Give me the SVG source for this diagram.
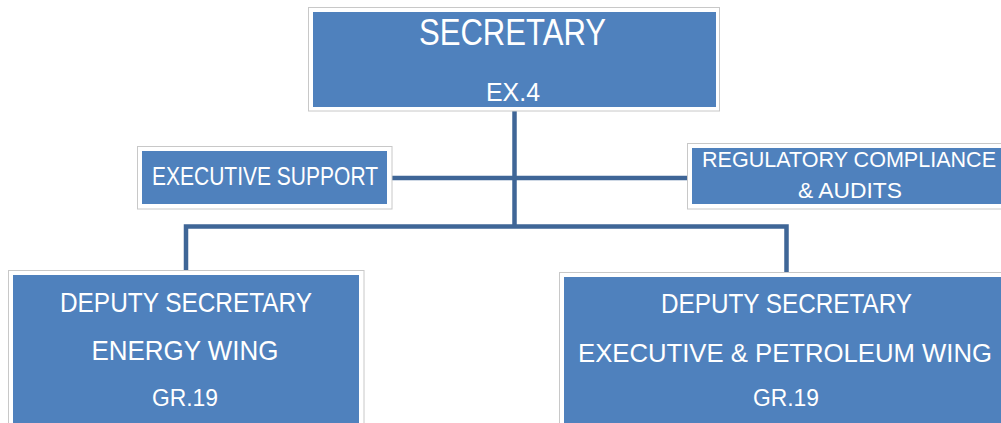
<svg xmlns="http://www.w3.org/2000/svg" width="1001" height="423" viewBox="0 0 1001 423">
<style>
.outer{fill:#ffffff;stroke:#c8c8c8;stroke-width:1}
.box{fill:#4f81bd}
.t{fill:#ffffff;font-family:"Liberation Sans",Arial,sans-serif;text-anchor:middle}
.conn{fill:none;stroke:#3f6697;stroke-width:4.5;stroke-linejoin:miter}
</style>
<rect width="1001" height="423" fill="#ffffff"/>
<g id="connectors">
<path class="conn" d="M514.5,111 V226.5"/>
<path class="conn" d="M392,178 H688"/>
<path class="conn" d="M186,270 V226.5 H786.5 V272"/>
</g>
<g id="secretary">
<rect class="outer" x="308.5" y="7.5" width="411" height="103.5"/>
<rect class="box" x="313" y="12" width="403" height="95"/>
<text class="t" x="512.5" y="45" font-size="37" textLength="187" lengthAdjust="spacingAndGlyphs">SECRETARY</text>
<text class="t" x="513" y="101" font-size="25" textLength="54" lengthAdjust="spacingAndGlyphs">EX.4</text>
</g>
<g id="executive-support">
<rect class="outer" x="137.5" y="146.5" width="254.5" height="62.5"/>
<rect class="box" x="142" y="151" width="245" height="53"/>
<text class="t" x="265" y="185" font-size="25" textLength="226" lengthAdjust="spacingAndGlyphs">EXECUTIVE SUPPORT</text>
</g>
<g id="regulatory">
<rect class="outer" x="687.5" y="143.5" width="330" height="65.5"/>
<rect class="box" x="692" y="148" width="320" height="56"/>
<text class="t" x="849" y="167" font-size="22" textLength="294" lengthAdjust="spacingAndGlyphs">REGULATORY COMPLIANCE</text>
<text class="t" x="850" y="198" font-size="22" textLength="104" lengthAdjust="spacingAndGlyphs">&amp; AUDITS</text>
</g>
<g id="deputy-energy">
<rect class="outer" x="8.5" y="270.5" width="355.5" height="160"/>
<rect class="box" x="13" y="275" width="346" height="160"/>
<text class="t" x="186" y="312" font-size="28" textLength="252" lengthAdjust="spacingAndGlyphs">DEPUTY SECRETARY</text>
<text class="t" x="185" y="360" font-size="28" textLength="187" lengthAdjust="spacingAndGlyphs">ENERGY WING</text>
<text class="t" x="185" y="406" font-size="24" textLength="66" lengthAdjust="spacingAndGlyphs">GR.19</text>
</g>
<g id="deputy-petroleum">
<rect class="outer" x="559.5" y="272.5" width="460" height="160"/>
<rect class="box" x="564" y="277" width="450" height="160"/>
<text class="t" x="786.5" y="313" font-size="28" textLength="251" lengthAdjust="spacingAndGlyphs">DEPUTY SECRETARY</text>
<text class="t" x="785" y="362" font-size="26" textLength="414" lengthAdjust="spacingAndGlyphs">EXECUTIVE &amp; PETROLEUM WING</text>
<text class="t" x="786" y="406" font-size="24" textLength="66" lengthAdjust="spacingAndGlyphs">GR.19</text>
</g>
</svg>
